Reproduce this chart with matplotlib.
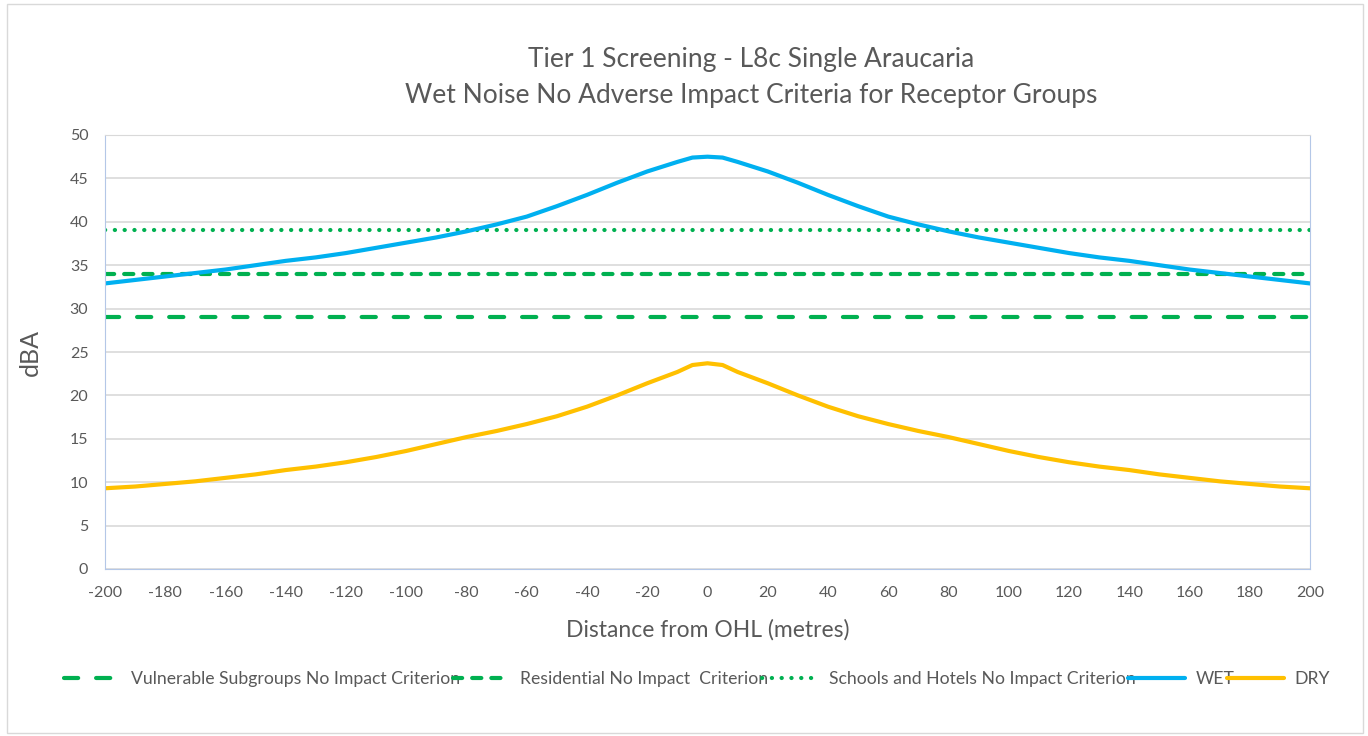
import matplotlib.pyplot as plt
from matplotlib.patches import Rectangle

# distance from the line (m) and modelled noise levels (dBA)
distance = [-200, -190, -180, -170, -160, -150, -140, -130, -120, -110, -100,
            -90, -80, -70, -60, -50, -40, -30, -20, -10, -5, 0, 5,
            10, 20, 30, 40, 50, 60, 70, 80, 90, 100,
            110, 120, 130, 140, 150, 160, 170, 180, 190, 200]
wet = [32.9, 33.3, 33.7, 34.1, 34.5, 35.0, 35.5, 35.9, 36.4, 37.0, 37.6,
       38.2, 38.9, 39.7, 40.6, 41.8, 43.1, 44.5, 45.8, 46.9, 47.4, 47.5, 47.4,
       46.9, 45.8, 44.5, 43.1, 41.8, 40.6, 39.7, 38.9, 38.2, 37.6,
       37.0, 36.4, 35.9, 35.5, 35.0, 34.5, 34.1, 33.7, 33.3, 32.9]
dry = [9.3, 9.5, 9.8, 10.1, 10.5, 10.9, 11.4, 11.8, 12.3, 12.9, 13.6,
       14.4, 15.2, 15.9, 16.7, 17.6, 18.7, 20.0, 21.4, 22.7, 23.5, 23.7, 23.5,
       22.7, 21.4, 20.0, 18.7, 17.6, 16.7, 15.9, 15.2, 14.4, 13.6,
       12.9, 12.3, 11.8, 11.4, 10.9, 10.5, 10.1, 9.8, 9.5, 9.3]

# no impact criteria (dBA)
vulnerable = 29
residential = 34
schools = 39

x_ticks = list(range(-200, 201, 20))
y_ticks = list(range(0, 51, 5))

GREEN = "#00B050"
BLUE = "#00B0F0"
YELLOW = "#FFC000"
TEXT = "#595959"
GRID = "#D9D9D9"
AXIS = "#B4C7E7"

plt.rcParams['font.family'] = ['Lato', 'DejaVu Sans']
plt.rcParams['axes.unicode_minus'] = False

fig = plt.figure(figsize=(13.68, 7.36), dpi=100)
ax = fig.add_axes([105 / 1368, 1 - 569 / 736, 1205 / 1368, 434 / 736])

# outer chart frame
fig.patches.append(Rectangle((7 / 1368, 3 / 736), 1356 / 1368, 729 / 736,
                             transform=fig.transFigure, fill=False,
                             edgecolor=GRID, linewidth=1))

lw = 3
ax.plot(distance, [vulnerable] * len(distance), color=GREEN, lw=lw,
        dashes=(3.4, 4.3), dash_capstyle='round',
        label="Vulnerable Subgroups No Impact Criterion")
ax.plot(distance, [residential] * len(distance), color=GREEN, lw=lw,
        dashes=(2.2, 2.4), dash_capstyle='round',
        label="Residential No Impact  Criterion")
ax.plot(distance, [schools] * len(distance), color=GREEN, lw=lw,
        dashes=(0.05, 2.3), dash_capstyle='round',
        label="Schools and Hotels No Impact Criterion")
ax.plot(distance, wet, color=BLUE, lw=lw, solid_capstyle='round', label="WET")
ax.plot(distance, dry, color=YELLOW, lw=lw, solid_capstyle='round', label="DRY")

ax.set_xlim(-200, 200)
ax.set_ylim(0, 50)
ax.set_xticks(x_ticks)
ax.set_yticks(y_ticks)
ax.tick_params(axis='both', length=0, labelsize=11.5, labelcolor=TEXT)
ax.tick_params(axis='x', pad=12)
ax.tick_params(axis='y', pad=12)

ax.yaxis.grid(True, color=GRID, linewidth=1.2)
ax.set_axisbelow(True)
ax.spines['top'].set_color(GRID)
for side in ['left', 'bottom', 'right']:
    ax.spines[side].set_color(AXIS)

ax.set_xlabel("Distance from OHL (metres)", fontsize=16.5, color=TEXT, labelpad=14)
ax.set_ylabel("dBA", fontsize=18, color=TEXT, labelpad=20)

fig.text(751 / 1368, 1 - 60 / 736, "Tier 1 Screening - L8c Single Araucaria",
         ha='center', va='center', fontsize=19, color=TEXT)
fig.text(751 / 1368, 1 - 96 / 736, "Wet Noise No Adverse Impact Criteria for Receptor Groups",
         ha='center', va='center', fontsize=19, color=TEXT)

leg = fig.legend(loc='center', bbox_to_anchor=(697 / 1368, 1 - 679 / 736), ncol=5,
                 frameon=False, fontsize=12.7, handlelength=3.2, handletextpad=0.6,
                 columnspacing=-0.4)
for t in leg.get_texts():
    t.set_color(TEXT)

fig.savefig("out.png", dpi=100, facecolor='white')
